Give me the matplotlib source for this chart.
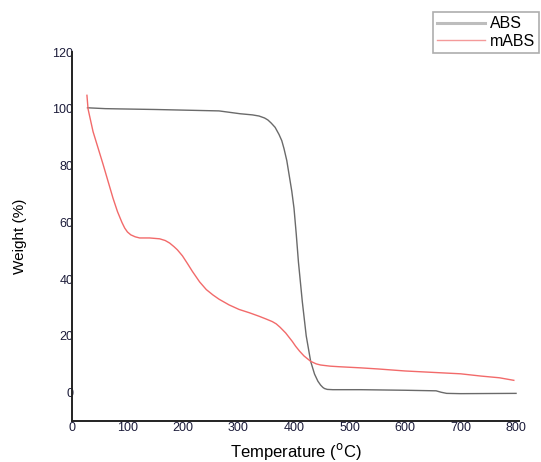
import matplotlib
matplotlib.use("Agg")
import matplotlib.pyplot as plt

plt.rcParams['font.family'] = ['Liberation Sans', 'DejaVu Sans']

# TGA curves
abs_temp = [28, 60, 88, 150, 242, 265, 303, 325, 337, 347, 353, 359, 366,
            373, 378, 382, 387, 391, 396, 400, 404, 408, 415, 422, 430, 437,
            443, 448, 452, 455, 460, 470, 520, 600, 656, 665, 675, 700, 800]
abs_weight = [100.4, 100.1, 100.0, 99.8, 99.4, 99.3, 98.3, 97.9, 97.5, 96.8,
              96.1, 95.0, 93.5, 91.0, 88.8, 86.0, 81.8, 77.0, 71.0, 65.0,
              56.0, 46.0, 32.0, 20.0, 11.0, 6.5, 4.0, 2.6, 1.8, 1.4, 1.1,
              1.0, 1.0, 0.8, 0.6, 0.1, -0.3, -0.4, -0.3]

mabs_temp = [27, 29, 38, 56, 74, 82, 90, 95, 100, 106, 114, 122, 140, 158,
             168, 176, 184, 190, 199, 208, 217, 230, 242, 254, 265, 283, 301,
             320, 337, 350, 361, 368, 375, 385, 397, 403, 410, 418, 430, 440,
             448, 465, 481, 520, 552, 600, 660, 700, 737, 770, 796]
mabs_weight = [104.8, 100.0, 92.0, 80.5, 68.5, 63.8, 60.0, 58.0, 56.6, 55.6,
               54.9, 54.5, 54.5, 54.2, 53.6, 52.7, 51.4, 50.3, 48.2, 45.5,
               42.7, 39.0, 36.3, 34.4, 32.9, 30.9, 29.3, 28.1, 26.9, 25.9,
               25.0, 24.2, 23.0, 21.0, 18.0, 16.3, 14.6, 12.9, 11.0, 10.1,
               9.7, 9.3, 9.1, 8.7, 8.3, 7.6, 7.0, 6.6, 5.8, 5.2, 4.3]

xticks = [0, 100, 200, 300, 400, 500, 600, 700, 800]
yticks = [0, 20, 40, 60, 80, 100, 120]

fig = plt.figure(figsize=(5.41, 4.62), dpi=100)
ax = fig.add_axes([0.133, 0.089, 0.826, 0.798])

ax.plot(abs_temp, abs_weight, color='#6a6a6a', lw=1.0, label='ABS')
ax.plot(mabs_temp, mabs_weight, color='#f26a6a', lw=1.0, label='mABS')

ax.set_xlim(0, 805)
ax.set_ylim(-10, 120)
ax.set_xticks(xticks)
ax.set_yticks(yticks)
ax.tick_params(length=0, labelsize=9, colors='#1c1c3a')
ax.tick_params(axis='y', pad=-1)
ax.tick_params(axis='x', pad=1)

for side in ['top', 'right']:
    ax.spines[side].set_visible(False)
for side in ['left', 'bottom']:
    ax.spines[side].set_linewidth(1.4)
    ax.spines[side].set_color('#222222')

ax.set_xlabel('Temperature ($^{\\mathrm{o}}$C)', fontsize=12, labelpad=5)
ax.set_ylabel('Weight (%)', fontsize=11, labelpad=18)

handles = [plt.Line2D([], [], color='#bdbdbd', lw=2.2),
           plt.Line2D([], [], color='#f49a9a', lw=1.0)]
leg = fig.legend(handles, ['ABS', 'mABS'], loc='upper right',
                 bbox_to_anchor=(0.997, 0.973), fontsize=11.5, frameon=True,
                 fancybox=False, handlelength=3.0, handletextpad=0.3,
                 borderpad=0.25, labelspacing=0.15, borderaxespad=0)
leg.get_frame().set_edgecolor('#999999')
leg.get_frame().set_linewidth(1.2)

fig.savefig('out.png', dpi=100)
